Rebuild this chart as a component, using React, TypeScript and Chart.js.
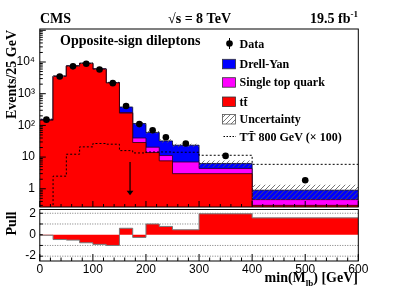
import React, { useEffect, useRef } from "react";
import { Chart, registerables } from "chart.js";
Chart.register(...registerables);

// ---------------- data ----------------
const binEdges = [0, 25, 50, 75, 100, 125, 150, 175, 200, 225, 250, 300, 400, 600];
const dataValues = [152, 3500, 7300, 8800, 5800, 2150, 410, 110, 70.5, 42.4, 26.8, 10.9, 1.86];
const ttbarValues = [145, 3520, 7420, 8980, 5930, 2190, 243, 28.8, 13.9, 7.6, 3.0, 3.0, 0.3];
const singleTopValues = [4, 50, 100, 120, 90, 40, 12, 11.2, 6.6, 3.6, 4.0, 1.35, 0.155];
const drellYanValues = [6, 30, 80, 100, 80, 20, 125, 74, 39.5, 21.2, 16.7, 1.95, 0.445];
const uncertaintyFrac = [0.06, 0.06, 0.06, 0.06, 0.06, 0.06, 0.08, 0.1, 0.1, 0.12, 0.12, 0.24, 0.5];
const signalValues = [0, 2.5, 12.3, 21, 26.8, 25.5, 16, 13.5, 14.5, 14.5, 14.2, 11.4, 5.9];
const pullValues = [-0.05, -0.45, -0.5, -0.75, -0.9, -1.0, 0.6, -0.25, 1.0, 0.77, 0.46, 1.95, 1.57];

const mainYTicks = [1, 10, 100, 1000, 10000];
const mainYTickLabels = ["1", "10", "10²", "10³", "10⁴"];
const pullYTicks = [-2, -1, 0, 1, 2];
const pullYTickLabels = ["-2", "-1", "0", "1", "2"];
const xTicks = [0, 100, 200, 300, 400, 500, 600];
const xTickLabels = ["0", "100", "200", "300", "400", "500", "600"];
const legendLabels = ["Data", "Drell-Yan", "Single top quark", "tt\u0304", "Uncertainty", "TT\u0304 800 GeV (\u00d7 100)"];
const cutArrow = { x: 170, from: 7, to: 0.62 };

// ---------------- layout / style ----------------
const W = 399, H = 297;
const LEFT = 39.8, RIGHT = 358.3;
const MAIN_TOP = 29, MAIN_BOTTOM = 207;
const PULL_TOP = 209.5, PULL_BOTTOM = 261;
const SERIF = '"Liberation Serif", "Times New Roman", serif';
const SANS = '"Liberation Sans", Arial, sans-serif';
const RED = "#ff0000", MAGENTA = "#ff00ff", BLUE = "#0000ff";

const lastEdge = binEdges[binEdges.length - 1];
const stepPoints = (vals: number[], floor = 0) =>
  [...vals.map((v, i) => ({ x: binEdges[i], y: v > floor ? v : 1e-3 })), { x: lastEdge, y: vals[vals.length - 1] }];
const stTop = ttbarValues.map((v, i) => v + singleTopValues[i]);
const dyTop = stTop.map((v, i) => v + drellYanValues[i]);
const uncUp = dyTop.map((v, i) => v * (1 + uncertaintyFrac[i]));
const uncDown = dyTop.map((v, i) => v * (1 - uncertaintyFrac[i]));
const dataPoints = dataValues.map((v, i) => ({ x: (binEdges[i] + binEdges[i + 1]) / 2, y: v }));

function makeHatch(): CanvasPattern | string {
  const c = document.createElement("canvas");
  c.width = 5; c.height = 5;
  const g = c.getContext("2d");
  if (!g) return "rgba(80,80,80,0.3)";
  g.strokeStyle = "#555";
  g.lineWidth = 0.8;
  g.beginPath();
  g.moveTo(0, 5); g.lineTo(5, 0);
  g.moveTo(-1, 1); g.lineTo(1, -1);
  g.moveTo(4, 6); g.lineTo(6, 4);
  g.stroke();
  return g.createPattern(c, "repeat") || "rgba(80,80,80,0.3)";
}

function line(ctx: CanvasRenderingContext2D, x1: number, y1: number, x2: number, y2: number) {
  ctx.beginPath(); ctx.moveTo(x1, y1); ctx.lineTo(x2, y2); ctx.stroke();
}

function drawXTicks(ctx: CanvasRenderingContext2D, x: any, bottom: number, major: number, minor: number) {
  for (let v = 0; v <= 600; v += 20) {
    const px = x.getPixelForValue(v);
    const len = v % 100 === 0 ? major : minor;
    line(ctx, px, bottom, px, bottom - len);
  }
}

const mainDecor = (hatch: CanvasPattern | string) => ({
  id: "mainDecor",
  afterDatasetsDraw(chart: any) {
    const { ctx, scales: { x, y } } = chart;
    const ax = x.getPixelForValue(cutArrow.x);
    const y1 = y.getPixelForValue(cutArrow.from);
    const y2 = y.getPixelForValue(cutArrow.to);
    ctx.save();
    ctx.strokeStyle = "#000"; ctx.fillStyle = "#000"; ctx.lineWidth = 1.2;
    line(ctx, ax, y1, ax, y2 - 3);
    ctx.beginPath();
    ctx.moveTo(ax - 3.4, y2 - 4.5); ctx.lineTo(ax + 3.4, y2 - 4.5); ctx.lineTo(ax, y2); ctx.closePath(); ctx.fill();
    ctx.restore();
  },
  afterDraw(chart: any) {
    const { ctx, chartArea: a, scales: { x, y } } = chart;
    ctx.save();
    ctx.strokeStyle = "#000"; ctx.lineWidth = 1;
    ctx.strokeRect(a.left, a.top, a.right - a.left, a.bottom - a.top);
    for (let d = -1; d <= 5; d++) {
      for (let k = 1; k <= 9; k++) {
        const v = k * Math.pow(10, d);
        if (v < y.min || v > y.max) continue;
        const py = y.getPixelForValue(v);
        line(ctx, a.left, py, a.left + (k === 1 ? 6 : 3), py);
      }
    }
    drawXTicks(ctx, x, a.bottom, 6, 3);

    ctx.fillStyle = "#000"; ctx.textBaseline = "alphabetic";
    ctx.font = `bold 14px ${SERIF}`;
    ctx.textAlign = "left";
    ctx.fillText("CMS", 40, 23);
    ctx.fillText("\u221As = 8 TeV", 168, 23);
    const lumi = "19.5 fb";
    ctx.font = `bold 9px ${SERIF}`;
    const supW = ctx.measureText("-1").width;
    ctx.font = `bold 14px ${SERIF}`;
    const lumiW = ctx.measureText(lumi).width;
    const lx = 358 - supW - lumiW;
    ctx.fillText(lumi, lx, 23);
    ctx.font = `bold 9px ${SERIF}`;
    ctx.fillText("-1", lx + lumiW, 17);

    ctx.font = `bold 14px ${SERIF}`;
    ctx.fillText("Opposite-sign dileptons", 60, 45);

    ctx.save();
    ctx.translate(15.5, 30);
    ctx.rotate(-Math.PI / 2);
    ctx.textAlign = "right";
    ctx.fillText("Events/25 GeV", 0, 0);
    ctx.restore();

    const tx = 239.5;
    const base = [48, 67.8, 86.2, 105.5, 123, 140.5];
    ctx.font = `bold 12px ${SERIF}`;
    ctx.textAlign = "left";
    legendLabels.forEach((t, i) => ctx.fillText(t, tx, base[i]));
    ctx.beginPath(); ctx.arc(229.5, base[0] - 4.5, 3.3, 0, Math.PI * 2); ctx.fill();
    line(ctx, 229.5, base[0] - 10, 229.5, base[0] + 1);
    const boxes: [string, number][] = [[BLUE, 1], [MAGENTA, 2], [RED, 3]];
    ctx.lineWidth = 0.8;
    boxes.forEach(([c, i]) => {
      ctx.fillStyle = c;
      ctx.fillRect(222.5, base[i] - 8.5, 13, 9.5);
      ctx.strokeStyle = "#333";
      ctx.strokeRect(222.5, base[i] - 8.5, 13, 9.5);
    });
    ctx.fillStyle = hatch as any;
    ctx.fillRect(222.5, base[4] - 8.5, 13, 9.5);
    ctx.strokeStyle = "#555";
    ctx.strokeRect(222.5, base[4] - 8.5, 13, 9.5);
    ctx.strokeStyle = "#000"; ctx.lineWidth = 1;
    ctx.setLineDash([1.5, 1.5]);
    line(ctx, 223.5, base[5] - 4, 236, base[5] - 4);
    ctx.setLineDash([]);
    ctx.restore();
  },
});

const pullDecor = {
  id: "pullDecor",
  beforeDatasetsDraw(chart: any) {
    const { ctx, chartArea: a, scales: { y } } = chart;
    ctx.save();
    ctx.strokeStyle = "#777"; ctx.lineWidth = 1;
    ctx.setLineDash([1, 1.5]);
    [-2, -1, 1, 2].forEach((v) => {
      const py = y.getPixelForValue(v);
      line(ctx, a.left, py, a.right, py);
    });
    ctx.restore();
  },
  afterDraw(chart: any) {
    const { ctx, chartArea: a, scales: { x, y } } = chart;
    ctx.save();
    ctx.strokeStyle = "#000"; ctx.lineWidth = 1;
    ctx.strokeRect(a.left, a.top, a.right - a.left, a.bottom - a.top);
    drawXTicks(ctx, x, a.bottom, 7, 3.5);
    pullYTicks.forEach((v) => {
      const py = y.getPixelForValue(v);
      line(ctx, a.left, py, a.left + 3, py);
    });
    ctx.fillStyle = "#000";
    ctx.font = `bold 14px ${SERIF}`;
    ctx.save();
    ctx.translate(15.5, 211.5);
    ctx.rotate(-Math.PI / 2);
    ctx.textAlign = "right";
    ctx.fillText("Pull", 0, 0);
    ctx.restore();
    const p1 = "min(M", sub = "lb", p2 = ") [GeV]";
    ctx.font = `bold 14px ${SERIF}`;
    const w1 = ctx.measureText(p1).width, w3 = ctx.measureText(p2).width;
    ctx.font = `bold 9px ${SERIF}`;
    const w2 = ctx.measureText(sub).width;
    const sx = 358 - w1 - w2 - w3;
    ctx.textAlign = "left";
    ctx.font = `bold 14px ${SERIF}`;
    ctx.fillText(p1, sx, 281.5);
    ctx.fillText(p2, sx + w1 + w2, 281.5);
    ctx.font = `bold 9px ${SERIF}`;
    ctx.fillText(sub, sx + w1, 286);
    ctx.restore();
  },
};

export default function App() {
  const mainRef = useRef<HTMLCanvasElement>(null);
  const pullRef = useRef<HTMLCanvasElement>(null);

  useEffect(() => {
    const hatch = makeHatch();
    const stepped = { stepped: "before" as const, pointRadius: 0, tension: 0 };
    const main = new Chart(mainRef.current as HTMLCanvasElement, {
      type: "line",
      data: {
        datasets: [
          { label: "Data", data: dataPoints, showLine: false, pointRadius: 3.3, pointBackgroundColor: "#000", pointBorderWidth: 0, borderColor: "#000" } as any,
          { label: "Signal", data: stepPoints(signalValues), ...stepped, borderColor: "#000", borderWidth: 1, borderDash: [2, 2], fill: false },
          { label: "UncUp", data: stepPoints(uncUp), ...stepped, borderWidth: 0, borderColor: "rgba(0,0,0,0)", backgroundColor: hatch as any, fill: "+1" },
          { label: "UncDown", data: stepPoints(uncDown), ...stepped, borderWidth: 0, borderColor: "rgba(0,0,0,0)", fill: false },
          { label: "ttbar", data: stepPoints(ttbarValues), ...stepped, borderWidth: 1, borderColor: "rgba(40,0,0,0.8)", backgroundColor: RED, fill: "start" },
          { label: "Single top", data: stepPoints(stTop), ...stepped, borderWidth: 1, borderColor: "rgba(40,0,40,0.8)", backgroundColor: MAGENTA, fill: "start" },
          { label: "Drell-Yan", data: stepPoints(dyTop), ...stepped, borderWidth: 1, borderColor: "rgba(0,0,40,0.8)", backgroundColor: BLUE, fill: "start" },
        ],
      },
      options: {
        animation: false,
        responsive: false,
        maintainAspectRatio: false,
        events: [],
        layout: { padding: { left: 0, right: W - RIGHT, top: MAIN_TOP, bottom: H - MAIN_BOTTOM } },
        plugins: { legend: { display: false }, tooltip: { enabled: false } },
        scales: {
          x: { type: "linear", min: 0, max: 600, display: false },
          y: {
            type: "logarithmic",
            min: 0.266,
            max: 1.1e5,
            afterFit: (s: any) => { s.width = LEFT; },
            afterBuildTicks: (s: any) => { s.ticks = mainYTicks.map((v) => ({ value: v })); },
            ticks: {
              callback: (v: any) => mainYTickLabels[mainYTicks.indexOf(Number(v))] ?? "",
              font: { family: SANS, size: 12 },
              color: "#000",
              padding: 4.8,
            },
            grid: { display: false, drawTicks: false },
            border: { display: false },
          },
        },
      },
      plugins: [mainDecor(hatch)],
    });

    const pull = new Chart(pullRef.current as HTMLCanvasElement, {
      type: "line",
      data: {
        datasets: [
          { label: "Pull", data: stepPoints(pullValues, -100), ...stepped, borderWidth: 1, borderColor: "#777", backgroundColor: RED, fill: "origin" },
        ],
      },
      options: {
        animation: false,
        responsive: false,
        maintainAspectRatio: false,
        events: [],
        layout: { padding: { left: 0, right: W - RIGHT, top: PULL_TOP, bottom: 0 } },
        plugins: { legend: { display: false }, tooltip: { enabled: false } },
        scales: {
          x: {
            type: "linear", min: 0, max: 600,
            afterFit: (s: any) => { s.height = H - PULL_BOTTOM; },
            afterBuildTicks: (s: any) => { s.ticks = xTicks.map((v) => ({ value: v })); },
            ticks: {
              callback: (v: any) => xTickLabels[xTicks.indexOf(Number(v))] ?? "",
              font: { family: SANS, size: 12 }, color: "#000", padding: 1, maxRotation: 0,
            },
            grid: { display: false, drawTicks: false },
            border: { display: false },
          },
          y: {
            type: "linear", min: -2.45, max: 2.35,
            afterFit: (s: any) => { s.width = LEFT; },
            afterBuildTicks: (s: any) => { s.ticks = pullYTicks.map((v) => ({ value: v })); },
            ticks: {
              callback: (v: any) => pullYTickLabels[pullYTicks.indexOf(Number(v))] ?? "",
              font: { family: SANS, size: 12 }, color: "#000", padding: 3.8,
            },
            grid: { display: false, drawTicks: false },
            border: { display: false },
          },
        },
      },
      plugins: [pullDecor],
    });

    return () => { main.destroy(); pull.destroy(); };
  }, []);

  return (
    <div style={{ position: "fixed", left: 0, top: 0, width: W, height: H, background: "#fff" }}>
      <canvas ref={mainRef} width={W} height={H} style={{ position: "absolute", left: 0, top: 0, width: W, height: H }} />
      <canvas ref={pullRef} width={W} height={H} style={{ position: "absolute", left: 0, top: 0, width: W, height: H }} />
    </div>
  );
}
